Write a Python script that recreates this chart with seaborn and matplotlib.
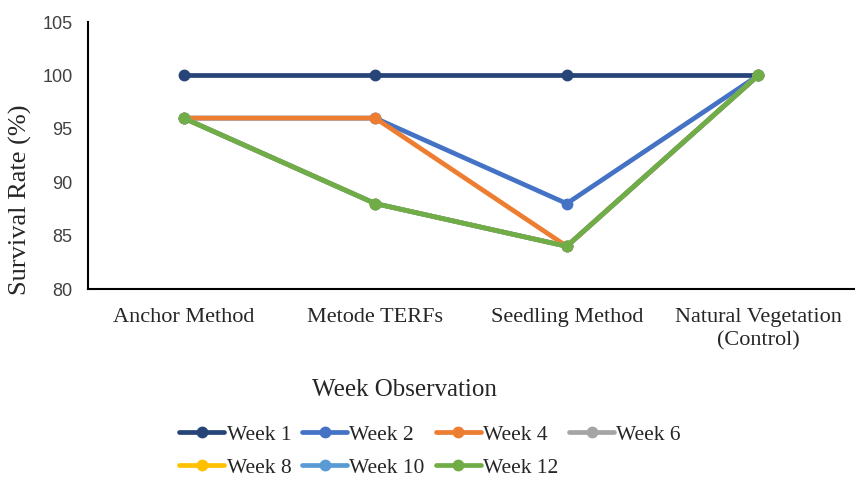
import matplotlib
matplotlib.use("Agg")
import matplotlib.pyplot as plt
import seaborn as sns
import pandas as pd
from matplotlib.lines import Line2D

categories = ["Anchor Method", "Metode TERFs", "Seedling Method", "Natural Vegetation\n(Control)"]
weeks = ["Week 1", "Week 2", "Week 4", "Week 6", "Week 8", "Week 10", "Week 12"]
week1 = [100, 100, 100, 100]
week2 = [96, 96, 88, 100]
week4 = [96, 96, 84, 100]
week6 = [96, 88, 84, 100]
week8 = [96, 88, 84, 100]
week10 = [96, 88, 84, 100]
week12 = [96, 88, 84, 100]
colors = ["#264478", "#4472C4", "#ED7D31", "#A5A5A5", "#FFC000", "#5B9BD5", "#70AD47"]

series = [week1, week2, week4, week6, week8, week10, week12]
rows = []
for w, vals in zip(weeks, series):
    for c, v in zip(categories, vals):
        rows.append({"Category": c, "Week": w, "Survival": v})
df = pd.DataFrame(rows)

sns.set_style("white")
fig = plt.figure(figsize=(8.55, 4.79), dpi=100)
ax = fig.add_axes([88/855, 1-289/479, (854-88)/855, (289-22)/479])

sns.lineplot(data=df, x="Category", y="Survival", hue="Week", hue_order=weeks,
             palette=colors, marker="o", markersize=8.5, linewidth=3.4,
             markeredgewidth=0, ax=ax, legend=False, sort=False)

ax.set_ylim(80, 105)
ax.set_yticks([80, 85, 90, 95, 100, 105])
ax.set_xlim(-0.5, 3.5)
ax.set_xticks(range(4))
ax.set_xticklabels(categories, fontfamily="Liberation Serif", fontsize=16, linespacing=1.25)
ax.set_xticks([0.5, 1.5, 2.5], minor=True)
ax.tick_params(axis="x", which="major", length=0, pad=14)
ax.tick_params(axis="x", which="minor", length=5, width=1.2, direction="out", color="black")
ax.tick_params(axis="y", length=5, width=1.2, direction="out", color="black", labelsize=13, labelcolor="#404040", pad=6)
for lab in ax.get_yticklabels():
    lab.set_fontfamily("Liberation Sans")
for side in ["top", "right"]:
    ax.spines[side].set_visible(False)
for side in ["left", "bottom"]:
    ax.spines[side].set_color("black")
    ax.spines[side].set_linewidth(1.5)
ax.set_xlabel("")
ax.set_ylabel("")
ax.grid(False)

fig.text(20/855, 1-200/479, "Survival Rate (%)", ha="center", va="center", rotation=90,
         fontfamily="Liberation Serif", fontsize=19)

fig.text(404/855, 1-390/479, "Week Observation", ha="center", va="center",
         fontfamily="Liberation Serif", fontsize=18)

handles = [Line2D([0], [0], color=c, lw=3.4, marker="o", markersize=8.5, markeredgewidth=0)
           for c in colors]
order = [0, 4, 1, 5, 2, 6, 3]
leg = fig.legend([handles[i] for i in order], [weeks[i] for i in order], loc="center",
                 bbox_to_anchor=(430/855, 1-451/479),
                 ncol=4, frameon=False, prop={"family": "Liberation Serif", "size": 15.5},
                 handlelength=2.1, handletextpad=0.1, columnspacing=0.5, labelspacing=0.6)

fig.savefig("out.png", dpi=100)
